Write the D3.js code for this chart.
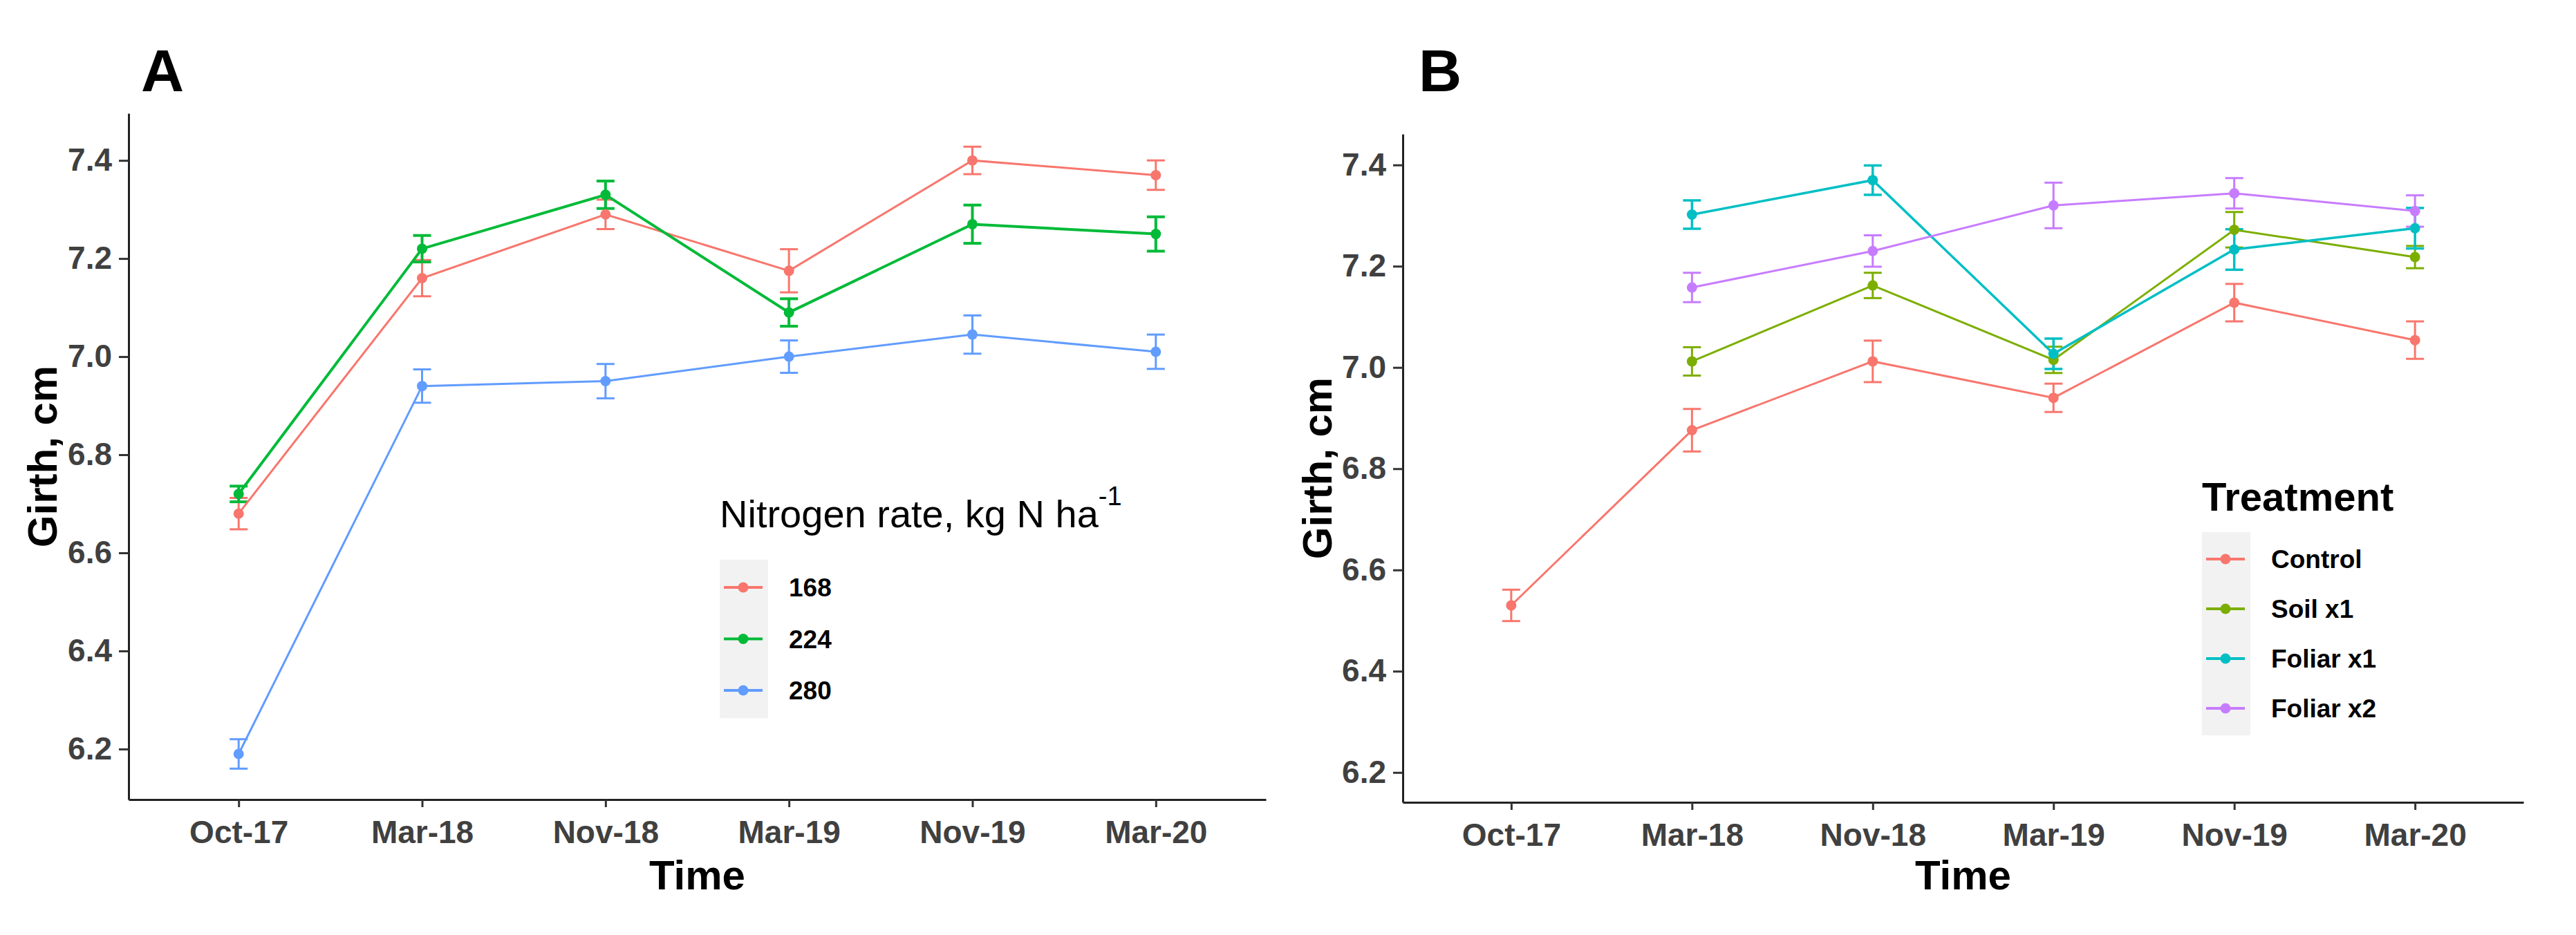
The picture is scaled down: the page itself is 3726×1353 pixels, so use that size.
<!DOCTYPE html>
<html>
<head>
<meta charset="utf-8">
<script src="https://cdn.jsdelivr.net/npm/d3@7"></script>
<style>
    body { margin: 0; background: #fff; }
    text { font-family: "Liberation Sans", Arial, sans-serif; }
</style>
</head>
<body>
<svg id="fig" width="3726" height="1353"></svg>
<script>
// categories and tick labels
var timeLabels = ["Oct-17", "Mar-18", "Nov-18", "Mar-19", "Nov-19", "Mar-20"];
var yTicks = [6.2, 6.4, 6.6, 6.8, 7.0, 7.2, 7.4];

// panel A : nitrogen rate
var nitrogenRates = ["168", "224", "280"];
var girth168 = [6.68, 7.16, 7.29, 7.175, 7.40, 7.37];
var se168 = [0.032, 0.037, 0.03, 0.044, 0.028, 0.03];
var girth224 = [6.72, 7.22, 7.33, 7.09, 7.27, 7.25];
var se224 = [0.016, 0.027, 0.028, 0.028, 0.039, 0.035];
var girth280 = [6.19, 6.94, 6.95, 7.0, 7.045, 7.01];
var se280 = [0.03, 0.034, 0.035, 0.033, 0.039, 0.035];

// panel B : treatment
var treatments = ["Control", "Soil x1", "Foliar x1", "Foliar x2"];
var girthControl = [6.53, 6.876, 7.012, 6.94, 7.128, 7.054];
var seControl = [0.031, 0.042, 0.041, 0.028, 0.037, 0.037];
var girthSoil = [null, 7.012, 7.162, 7.015, 7.272, 7.218];
var seSoil = [null, 0.028, 0.025, 0.026, 0.035, 0.022];
var girthFoliar1 = [null, 7.302, 7.37, 7.027, 7.233, 7.275];
var seFoliar1 = [null, 0.028, 0.029, 0.03, 0.04, 0.04];
var girthFoliar2 = [null, 7.158, 7.23, 7.32, 7.344, 7.309];
var seFoliar2 = [null, 0.029, 0.031, 0.045, 0.03, 0.031];

var svg = d3.select("#fig");

function makeSeries(names, values, errs, colors, widths) {
    return names.map(function (n, k) {
        var pts = timeLabels.map(function (t, i) {
            return { time: t, v: values[k][i], se: errs[k][i] };
        }).filter(d => d.v != null);
        return { name: n, color: colors[k], width: widths[k], points: pts };
    });
}

function drawPanel(p) {
    var g = svg.append("g");

    var scX = d3.scalePoint().domain(timeLabels).range([p.left, p.right]).padding(0.6);
    var scY = d3.scaleLinear().domain(p.yDomain).range([p.bottom, p.top]);

    // axes
    var ax = g.append("g")
        .attr("transform", "translate(0," + p.bottom + ")")
        .call(d3.axisBottom(scX).tickSize(11).tickPadding(19).tickSizeOuter(0));
    var ay = g.append("g")
        .attr("transform", "translate(" + p.left + ",0)")
        .call(d3.axisLeft(scY).tickValues(yTicks).tickFormat(d3.format(".1f")).tickSize(14).tickPadding(10).tickSizeOuter(0));

    [ax, ay].forEach(function (a) {
        a.select(".domain").attr("stroke", "#222").attr("stroke-width", 3);
        a.selectAll(".tick line").attr("stroke", "#333").attr("stroke-width", 3);
        a.selectAll(".tick text")
            .attr("fill", "#404040")
            .attr("font-size", 46)
            .attr("font-weight", "bold")
            .attr("font-family", "'Liberation Sans', Arial, sans-serif");
    });

    var lineMaker = d3.line()
        .x(d => scX(d.time))
        .y(d => scY(d.v));

    // error bars
    p.series.forEach(function (s) {
        var eb = g.append("g").attr("stroke", s.color).attr("stroke-width", s.width).attr("fill", "none");
        eb.selectAll("line.v").data(s.points).enter().append("line")
            .attr("x1", d => scX(d.time)).attr("x2", d => scX(d.time))
            .attr("y1", d => scY(d.v - d.se)).attr("y2", d => scY(d.v + d.se));
        eb.selectAll("line.top").data(s.points).enter().append("line")
            .attr("x1", d => scX(d.time) - 13).attr("x2", d => scX(d.time) + 13)
            .attr("y1", d => scY(d.v + d.se)).attr("y2", d => scY(d.v + d.se));
        eb.selectAll("line.bot").data(s.points).enter().append("line")
            .attr("x1", d => scX(d.time) - 13).attr("x2", d => scX(d.time) + 13)
            .attr("y1", d => scY(d.v - d.se)).attr("y2", d => scY(d.v - d.se));
    });

    // lines
    g.selectAll("path.series")
        .data(p.series)
        .enter()
        .append("path")
        .attr("class", "series")
        .attr("fill", "none")
        .attr("stroke", d => d.color)
        .attr("stroke-width", d => d.width)
        .attr("d", d => lineMaker(d.points));

    // points
    p.series.forEach(function (s) {
        g.selectAll(null).data(s.points).enter().append("circle")
            .attr("r", 7.5)
            .attr("fill", s.color)
            .attr("cx", d => scX(d.time))
            .attr("cy", d => scY(d.v));
    });

    // panel letter
    g.append("text").attr("x", p.letterX).attr("y", 132)
        .attr("font-size", 86).attr("font-weight", "bold").text(p.letter);

    // axis titles
    g.append("text")
        .attr("x", (p.left + p.right) / 2).attr("y", 1287)
        .attr("text-anchor", "middle").attr("font-size", 60).attr("font-weight", "bold")
        .text("Time");
    g.append("text")
        .attr("transform", "translate(" + p.yTitleX + "," + (p.top + p.bottom) / 2 + ") rotate(-90)")
        .attr("text-anchor", "middle").attr("font-size", 60).attr("font-weight", "bold")
        .text("Girth, cm");

    // legend
    var lg = p.legend;
    var title = g.append("text").attr("x", lg.x).attr("y", lg.titleY)
        .attr("font-size", lg.titleSize).attr("font-weight", lg.titleWeight)
        .text(lg.title);
    if (lg.sup) {
        title.append("tspan").attr("dy", -32).attr("font-size", 38).text(lg.sup);
    }
    var n = p.series.length;
    g.append("rect")
        .attr("x", lg.x).attr("y", lg.firstY - lg.step / 2 - 3)
        .attr("width", 70).attr("height", lg.step * n + 6)
        .attr("fill", "#f2f2f2");
    p.series.forEach(function (s, i) {
        var ky = lg.firstY + i * lg.step;
        g.append("line")
            .attr("x1", lg.x + 6).attr("x2", lg.x + 62).attr("y1", ky).attr("y2", ky)
            .attr("stroke", s.color).attr("stroke-width", 4);
        g.append("circle").attr("cx", lg.x + 34).attr("cy", ky).attr("r", 7.5).attr("fill", s.color);
        g.append("text").attr("x", lg.x + 100).attr("y", ky).attr("dy", "0.36em")
            .attr("font-size", 37).attr("font-weight", "bold").text(s.name);
    });
}

drawPanel({
    letter: "A", letterX: 204,
    left: 186, right: 1831, top: 164, bottom: 1157,
    yDomain: [6.097, 7.496],
    yTitleX: 82,
    series: makeSeries(nitrogenRates,
        [girth168, girth224, girth280],
        [se168, se224, se280],
        ["#F8766D", "#00BA38", "#619CFF"],
        [3, 4, 3]),
    legend: { x: 1041, titleY: 763, title: "Nitrogen rate, kg N ha", sup: "-1",
        titleSize: 56, titleWeight: "normal", firstY: 850, step: 74.5 }
});

drawPanel({
    letter: "B", letterX: 2052,
    left: 2029, right: 3650, top: 194, bottom: 1161,
    yDomain: [6.141, 7.461],
    yTitleX: 1926,
    series: makeSeries(treatments,
        [girthControl, girthSoil, girthFoliar1, girthFoliar2],
        [seControl, seSoil, seFoliar1, seFoliar2],
        ["#F8766D", "#7CAE00", "#00BFC4", "#C77CFF"],
        [3, 3, 3.5, 3]),
    legend: { x: 3185, titleY: 739, title: "Treatment", sup: null,
        titleSize: 58, titleWeight: "bold", firstY: 809, step: 72 }
});
</script>
</body>
</html>
